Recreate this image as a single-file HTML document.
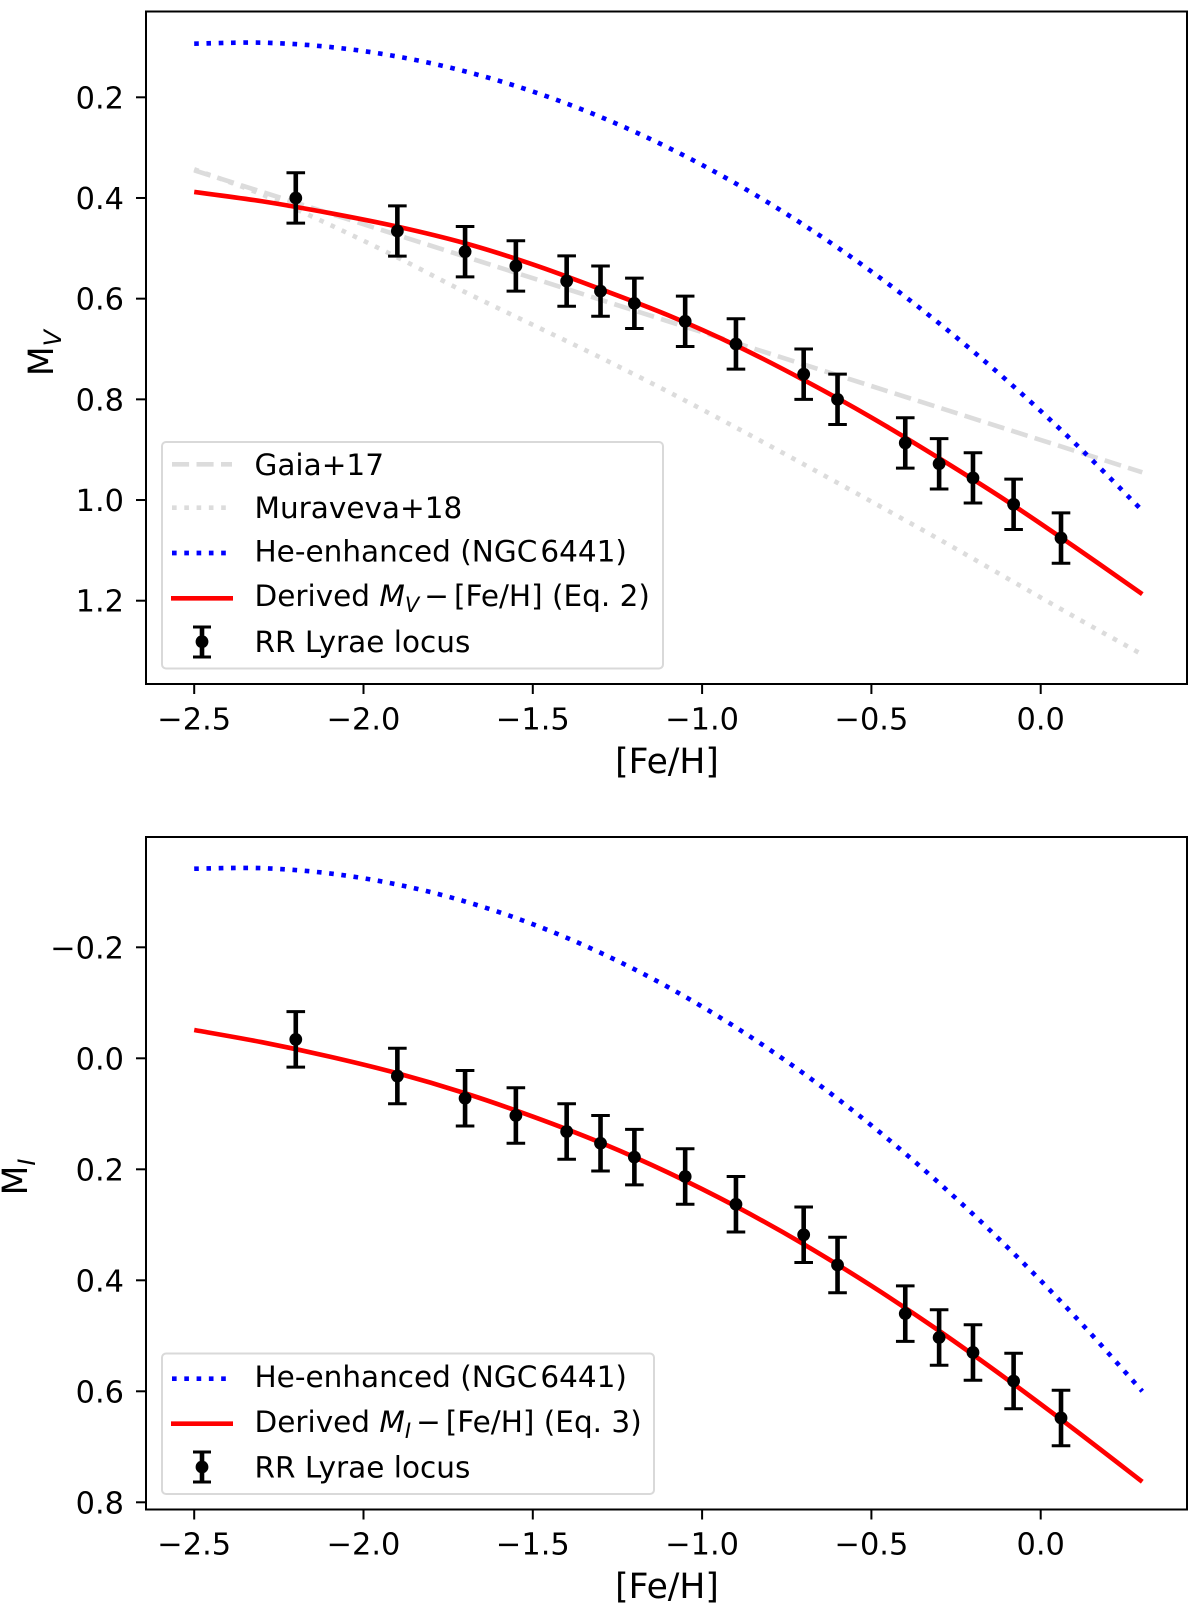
<!DOCTYPE html>
<html lang="en">
<head>
<meta charset="utf-8">
<title>RR Lyrae absolute magnitude versus metallicity</title>
<style>
html,body{margin:0;padding:0;background:#fff;}
svg{display:block;font-family:"DejaVu Sans","Liberation Sans",sans-serif;}
.tick{font-size:30.4px;fill:#000;}
.leg{font-size:29.5px;fill:#000;}
.axl{font-size:34.5px;fill:#000;}
</style>
</head>
<body>
<svg id="fig" xmlns="http://www.w3.org/2000/svg" width="1200" height="1610" viewBox="0 0 1200 1610">
  <rect width="1200" height="1610" fill="#fff"/>

  <g id="top-panel">
    <g id="top-marks"></g>
    <g id="top-axes"></g>
    <text class="axl" x="667" y="773" text-anchor="middle">[Fe/H]</text>
    <text class="axl" transform="translate(53,353) rotate(-90)" text-anchor="middle">M<tspan dy="8" font-size="24" font-style="italic">V</tspan></text>
    <g>
      <rect x="162" y="442" width="501" height="226.5" rx="4" fill="#fff" fill-opacity="0.8" stroke="#d9d9d9" stroke-width="2"/>
      <g>
        <line x1="172" y1="464.3" x2="232" y2="464.3" stroke="#dcdcdc" stroke-width="4.64" stroke-dasharray="17.1 7.4"/>
        <text class="leg" x="254.5" y="475">Gaia+17</text>
      </g>
      <g>
        <line x1="172" y1="507.7" x2="232" y2="507.7" stroke="#dcdcdc" stroke-width="4.64" stroke-dasharray="4.64 7.65"/>
        <text class="leg" x="254.5" y="518">Muraveva+18</text>
      </g>
      <g>
        <line x1="172" y1="553" x2="232" y2="553" stroke="#0000ff" stroke-width="4.64" stroke-dasharray="4.64 7.65"/>
        <text class="leg" x="254.5" y="561.5">He-enhanced (NGC<tspan dx="3">6441)</tspan></text>
      </g>
      <g>
        <line x1="171" y1="598.3" x2="233" y2="598.3" stroke="#ff0000" stroke-width="4.64"/>
        <text class="leg" x="254.5" y="606">Derived <tspan font-style="italic">M</tspan><tspan dy="6" font-size="21" font-style="italic">V</tspan><tspan dy="-6" dx="5">−</tspan><tspan dx="5">[Fe/H] (Eq. 2)</tspan></text>
      </g>
      <g>
        <line x1="202" y1="626.5" x2="202" y2="657" stroke="#000" stroke-width="4.6"/>
        <line x1="193" y1="627" x2="211" y2="627" stroke="#000" stroke-width="3"/>
        <line x1="193" y1="657" x2="211" y2="657" stroke="#000" stroke-width="3"/>
        <circle cx="202" cy="641.7" r="6.4" fill="#000"/>
        <text class="leg" x="254.5" y="652">RR Lyrae locus</text>
      </g>
    </g>
  </g>

  <g id="bottom-panel">
    <g id="bottom-marks"></g>
    <g id="bottom-axes"></g>
    <text class="axl" x="667" y="1598" text-anchor="middle">[Fe/H]</text>
    <text class="axl" transform="translate(27,1177) rotate(-90)" text-anchor="middle">M<tspan dy="8" font-size="24" font-style="italic">I</tspan></text>
    <g>
      <rect x="162" y="1353.5" width="492" height="140.5" rx="4" fill="#fff" fill-opacity="0.8" stroke="#d9d9d9" stroke-width="2"/>
      <g>
        <line x1="172" y1="1378.7" x2="232" y2="1378.7" stroke="#0000ff" stroke-width="4.64" stroke-dasharray="4.64 7.65"/>
        <text class="leg" x="254.5" y="1387">He-enhanced (NGC<tspan dx="3">6441)</tspan></text>
      </g>
      <g>
        <line x1="171" y1="1423.7" x2="233" y2="1423.7" stroke="#ff0000" stroke-width="4.64"/>
        <text class="leg" x="254.5" y="1432">Derived <tspan font-style="italic">M</tspan><tspan dy="6" font-size="21" font-style="italic">I</tspan><tspan dy="-6" dx="5">−</tspan><tspan dx="5">[Fe/H] (Eq. 3)</tspan></text>
      </g>
      <g>
        <line x1="202" y1="1452" x2="202" y2="1482" stroke="#000" stroke-width="4.6"/>
        <line x1="193" y1="1452" x2="211" y2="1452" stroke="#000" stroke-width="3"/>
        <line x1="193" y1="1482" x2="211" y2="1482" stroke="#000" stroke-width="3"/>
        <circle cx="202" cy="1467" r="6.4" fill="#000"/>
        <text class="leg" x="254.5" y="1477.5">RR Lyrae locus</text>
      </g>
    </g>
  </g>
</svg>

<script>
// Shared abscissae
const feHPoints = [-2.2, -1.9, -1.7, -1.55, -1.4, -1.3, -1.2, -1.05, -0.9, -0.7, -0.6, -0.4, -0.3, -0.2, -0.08, 0.06];
const curveFeH = [-2.5, -2.3, -2.1, -1.9, -1.7, -1.5, -1.3, -1.1, -0.9, -0.7, -0.5, -0.3, -0.1, 0.1, 0.3];
const pointError = 0.05;

// Upper panel values
const mvPoints = [0.40, 0.4656, 0.5067, 0.535, 0.565, 0.585, 0.6093, 0.645, 0.69, 0.75, 0.80, 0.8866, 0.928, 0.956, 1.0085, 1.0755];
const mvDerived = [0.388, 0.4065, 0.430, 0.457, 0.490, 0.532, 0.581, 0.633, 0.693, 0.7616, 0.836, 0.917, 1.002, 1.093, 1.187];
const mvHeEnhanced = [0.0935, 0.0915, 0.100, 0.119, 0.1485, 0.1885, 0.239, 0.300, 0.3715, 0.4535, 0.546, 0.649, 0.7625, 0.8865, 1.021];
const mvMuraveva = [0.343, 0.393, 0.453, 0.518, 0.587, 0.652, 0.717, 0.785, 0.856, 0.929, 1.003, 1.078, 1.155, 1.232, 1.307];
const gaiaFeH = [-2.5, 0.3];
const mvGaia = [0.345, 0.945];

// Lower panel values
const miPoints = [-0.034, 0.032, 0.072, 0.103, 0.132, 0.153, 0.178, 0.213, 0.263, 0.318, 0.3724, 0.460, 0.503, 0.530, 0.5815, 0.648];
const miDerived = [-0.051, -0.029, -0.003, 0.027, 0.063, 0.105, 0.152, 0.206, 0.267, 0.335, 0.410, 0.491, 0.578, 0.669, 0.763];
const miHeEnhanced = [-0.3416, -0.3426, -0.3331, -0.3131, -0.2826, -0.2416, -0.1901, -0.1281, -0.0556, 0.0274, 0.1209, 0.2249, 0.3394, 0.4644, 0.5999];

// Tick labels
const xTicks = [-2.5, -2.0, -1.5, -1.0, -0.5, 0.0];
const mvTicks = [0.2, 0.4, 0.6, 0.8, 1.0, 1.2];
const miTicks = [-0.2, 0.0, 0.2, 0.4, 0.6, 0.8];

const SVGNS = 'http://www.w3.org/2000/svg';
const fmt = v => (v < 0 ? '\u2212' : '') + Math.abs(v).toFixed(1);
const xScale = v => 1040.7 + 338.6 * v;
const yMV = v => 97.3 + (v - 0.2) * 503.4;
const yMI = v => 1058.3 + v * 555;

function mk(parent, tag, attrs) {
  const el = document.createElementNS(SVGNS, tag);
  for (const k in attrs) el.setAttribute(k, attrs[k]);
  parent.appendChild(el);
  return el;
}

function smoothPath(xs, ys, yFn) {
  const p = xs.map((x, i) => [xScale(x), yFn(ys[i])]);
  let d = 'M' + p[0][0].toFixed(2) + ' ' + p[0][1].toFixed(2);
  for (let i = 0; i < p.length - 1; i++) {
    const p0 = p[Math.max(i - 1, 0)], p1 = p[i], p2 = p[i + 1], p3 = p[Math.min(i + 2, p.length - 1)];
    const c1x = p1[0] + (p2[0] - p0[0]) / 6, c1y = p1[1] + (p2[1] - p0[1]) / 6;
    const c2x = p2[0] - (p3[0] - p1[0]) / 6, c2y = p2[1] - (p3[1] - p1[1]) / 6;
    d += 'C' + [c1x, c1y, c2x, c2y, p2[0], p2[1]].map(n => n.toFixed(2)).join(' ');
  }
  return d;
}

function curve(parent, xs, ys, yFn, color, dash, name) {
  const attrs = { d: smoothPath(xs, ys, yFn), fill: 'none', stroke: color, 'stroke-width': 4.64 };
  if (dash) attrs['stroke-dasharray'] = dash;
  const el = mk(parent, 'path', attrs);
  
  
}

function errorbars(parent, values, yFn, prefix) {
  values.forEach((v, i) => {
    const x = xScale(feHPoints[i]);
    const top = yFn(v - pointError), bot = yFn(v + pointError);
    const g = mk(parent, 'g', {});
    
    
    const stem = mk(g, 'line', { x1: x, x2: x, y1: top, y2: bot, stroke: '#000', 'stroke-width': 4.6 });
    
    
    const capT = mk(g, 'line', { x1: x - 9.3, x2: x + 9.3, y1: top, y2: top, stroke: '#000', 'stroke-width': 3 });
    
    
    const capB = mk(g, 'line', { x1: x - 9.3, x2: x + 9.3, y1: bot, y2: bot, stroke: '#000', 'stroke-width': 3 });
    
    
    const dot = mk(g, 'circle', { cx: x, cy: yFn(v), r: 6.4, fill: '#000' });
    
    
  });
}

function axes(parent, box, yTicks, yFn, xBaseline, prefix) {
  const frame = mk(parent, 'rect', { x: box.l, y: box.t, width: box.r - box.l, height: box.b - box.t, fill: 'none', stroke: '#000', 'stroke-width': 2 });
  
  
  xTicks.forEach(v => {
    const x = xScale(v);
    const t = mk(parent, 'line', { x1: x, x2: x, y1: box.b, y2: box.b + 10, stroke: '#000', 'stroke-width': 2 });
    
    
    const l = mk(parent, 'text', { x: x, y: xBaseline, 'text-anchor': 'middle', class: 'tick' });
    
    
    l.textContent = fmt(v);
  });
  yTicks.forEach(v => {
    const y = yFn(v);
    const t = mk(parent, 'line', { x1: box.l - 10, x2: box.l, y1: y, y2: y, stroke: '#000', 'stroke-width': 2 });
    
    
    const l = mk(parent, 'text', { x: 124, y: y + 11, 'text-anchor': 'end', class: 'tick' });
    
    
    l.textContent = fmt(v);
  });
}

const DASH = '17.1 7.4', DOT = '4.64 7.65';

const topMarks = document.getElementById('top-marks');
curve(topMarks, gaiaFeH, mvGaia, yMV, '#dcdcdc', DASH, 'gaia-17-line');
curve(topMarks, curveFeH, mvMuraveva, yMV, '#dcdcdc', DOT, 'muraveva-18-line');
curve(topMarks, curveFeH, mvHeEnhanced, yMV, '#0000ff', DOT, 'he-enhanced-line');
curve(topMarks, curveFeH, mvDerived, yMV, '#ff0000', null, 'derived-mv-line');
errorbars(topMarks, mvPoints, yMV, 'mv');
axes(document.getElementById('top-axes'), { l: 146, r: 1187, t: 11.5, b: 684 }, mvTicks, yMV, 729.5, 'mv');

const botMarks = document.getElementById('bottom-marks');
curve(botMarks, curveFeH, miHeEnhanced, yMI, '#0000ff', DOT, 'he-enhanced-line');
curve(botMarks, curveFeH, miDerived, yMI, '#ff0000', null, 'derived-mi-line');
errorbars(botMarks, miPoints, yMI, 'mi');
axes(document.getElementById('bottom-axes'), { l: 146, r: 1187, t: 837, b: 1509.5 }, miTicks, yMI, 1554.5, 'mi');
</script>
</body>
</html>
